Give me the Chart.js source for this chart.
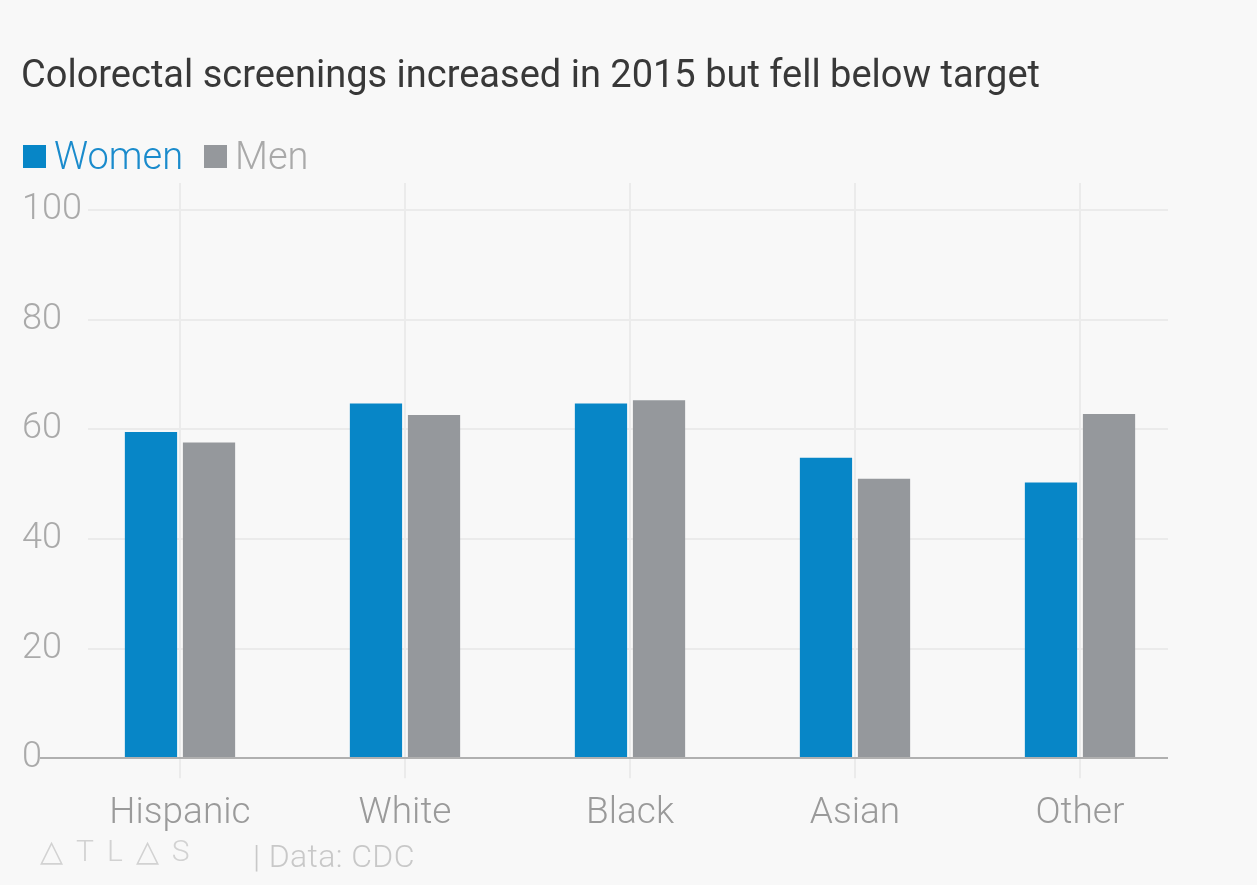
<!DOCTYPE html>
<html><head><meta charset="utf-8">
<script src="https://cdn.jsdelivr.net/npm/chart.js@4.4.1/dist/chart.umd.min.js"></script>
<style>
html,body{margin:0;padding:0;background:#f8f8f8;}
body{width:1257px;height:885px;position:relative;overflow:hidden;font-family:Roboto,sans-serif;}
#wrap{position:absolute;left:0;top:0;width:1257px;height:885px;}
#title{position:absolute;left:21px;top:52px;font-size:38px;color:#383838;white-space:nowrap;line-height:44px;}
#legend{position:absolute;left:23px;top:133px;font-size:38px;font-weight:300;display:flex;align-items:center;line-height:46px;}
#legend .sw{display:inline-block;width:23px;height:23px;margin-right:8px;}
#legend .it{display:flex;align-items:center;margin-right:21px;}
#footer{position:absolute;left:40px;top:833px;color:#d2d2d2;font-weight:300;white-space:nowrap;}
#logo{font-size:30px;letter-spacing:13px;display:inline-block;}
#src{font-size:32px;color:#c8c8c8;position:absolute;left:213px;top:4px;letter-spacing:0.4px;}
</style></head>
<body>
<div id="wrap"><canvas id="c" width="1257" height="885"></canvas></div>
<div id="title">Colorectal screenings increased in 2015 but fell below target</div>
<div id="legend"></div>
<div id="footer"><span id="logo">△TL△S</span><span id="src">| Data: CDC</span></div>
<script>
const categories = ['Hispanic', 'White', 'Black', 'Asian', 'Other'];
const women = [59.5, 64.7, 64.7, 54.8, 50.3];
const men = [57.6, 62.6, 65.3, 51.0, 62.8];
const seriesNames = ['Women', 'Men'];
const yTicks = [0, 20, 40, 60, 80, 100];

const WOMEN_COLOR = '#0786c7';
const MEN_COLOR = '#95989c';
const legendTextColors = ['#1a8bcc', '#a9a9a9'];

// HTML legend
const lg = document.getElementById('legend');
[WOMEN_COLOR, MEN_COLOR].forEach((col, i) => {
  const it = document.createElement('span'); it.className = 'it';
  const sw = document.createElement('span'); sw.className = 'sw'; sw.style.background = col;
  const tx = document.createElement('span'); tx.textContent = seriesNames[i]; tx.style.color = legendTextColors[i];
  it.appendChild(sw); it.appendChild(tx); lg.appendChild(it);
});

const gridPlugin = {
  id: 'customGrid',
  beforeDatasetsDraw(chart) {
    const {ctx, scales: {x, y}} = chart;
    ctx.save();
    ctx.strokeStyle = '#ebebeb';
    ctx.lineWidth = 2;
    yTicks.forEach(v => {
      if (v === 0) return;
      const py = Math.round(y.getPixelForValue(v));
      ctx.beginPath(); ctx.moveTo(88, py); ctx.lineTo(1168, py); ctx.stroke();
    });
    const top = y.getPixelForValue(100) - 27;
    const bot = y.getPixelForValue(0) + 20;
    categories.forEach((c, i) => {
      const px = Math.round(x.getPixelForValue(i));
      ctx.beginPath(); ctx.moveTo(px, top); ctx.lineTo(px, bot); ctx.stroke();
    });
    ctx.restore();
  },
  afterDatasetsDraw(chart) {
    const {ctx, scales: {y}} = chart;
    ctx.save();
    ctx.strokeStyle = '#b0b0b0';
    ctx.lineWidth = 2;
    const py = Math.round(y.getPixelForValue(0));
    ctx.beginPath(); ctx.moveTo(40, py); ctx.lineTo(1168, py); ctx.stroke();
    ctx.restore();
  }
};

new Chart(document.getElementById('c'), {
  type: 'bar',
  data: {
    labels: categories,
    datasets: [
      {label: seriesNames[0], data: women, backgroundColor: WOMEN_COLOR, barPercentage: 0.9, categoryPercentage: 0.516},
      {label: seriesNames[1], data: men, backgroundColor: MEN_COLOR, barPercentage: 0.9, categoryPercentage: 0.516}
    ]
  },
  options: {
    responsive: false,
    animation: false,
    events: [],
    layout: {padding: {left: 22, right: 64.5, top: 210, bottom: 0}},
    plugins: {legend: {display: false}, tooltip: {enabled: false}, title: {display: false}},
    scales: {
      x: {
        grid: {display: false, drawTicks: false},
        border: {display: false},
        ticks: {color: '#9a9a9a', font: {family: 'Roboto', size: 37, weight: '300'}, padding: 33, maxRotation: 0},
        afterFit(s) { s.height = 126.7; }
      },
      y: {
        min: 0, max: 100,
        grid: {display: false, drawTicks: false},
        border: {display: false},
        afterBuildTicks(s) { s.ticks = yTicks.map(v => ({value: v})); },
        ticks: {color: '#aaaaaa', font: {family: 'Roboto', size: 36, weight: '300'}, mirror: true, crossAlign: 'near', padding: -45.5},
        afterFit(s) { s.width = 45.5; }
      }
    }
  },
  plugins: [gridPlugin]
});
</script>
</body></html>
